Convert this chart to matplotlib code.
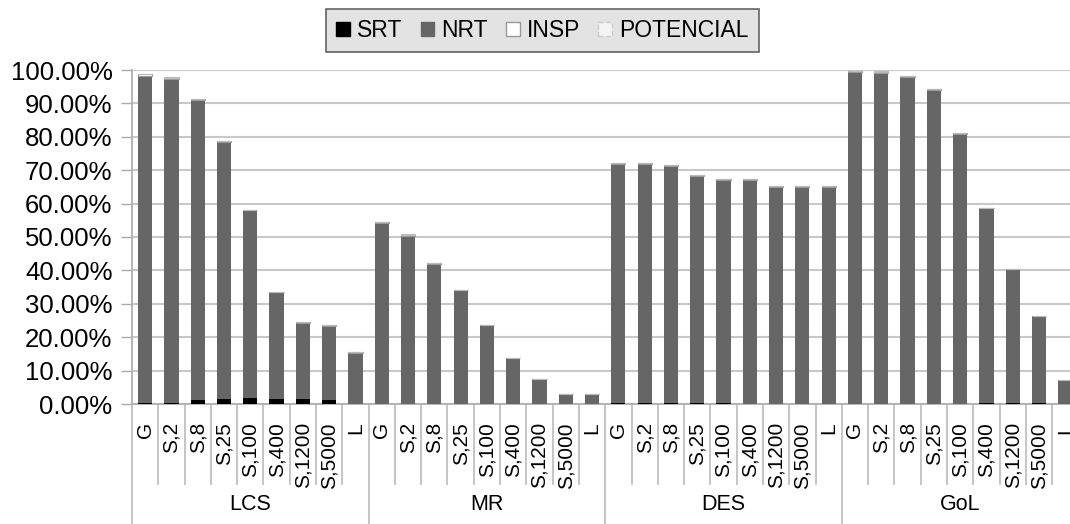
import numpy as np
import matplotlib
matplotlib.use("Agg")
import matplotlib.pyplot as plt
from matplotlib.patches import Patch
from matplotlib.transforms import blended_transform_factory

plt.rcParams['font.family'] = ['Liberation Sans', 'DejaVu Sans']

groups = ["LCS", "MR", "DES", "GoL"]
cats = ["G", "S,2", "S,8", "S,25", "S,100", "S,400", "S,1200", "S,5000", "L"]

# bar tops (%), per group
top_lcs = [98.8, 97.8, 91.4, 78.8, 58.1, 33.6, 24.5, 23.6, 15.5]
top_mr = [54.6, 50.8, 42.1, 34.2, 23.8, 13.8, 7.6, 3.0, 3.0]
top_des = [72.2, 72.2, 71.6, 68.7, 67.4, 67.4, 65.4, 65.4, 65.4]
top_gol = [99.8, 99.6, 98.2, 94.4, 81.0, 58.8, 40.4, 26.4, 7.2]

srt_lcs = [0.2, 0.4, 1.3, 1.6, 1.9, 1.6, 1.6, 1.3, 0.0]
srt_mr = [0.0, 0.0, 0.0, 0.0, 0.0, 0.0, 0.0, 0.0, 0.0]
srt_des = [0.2, 0.3, 0.2, 0.2, 0.2, 0.1, 0.1, 0.0, 0.0]
srt_gol = [0.0, 0.0, 0.0, 0.0, 0.1, 0.2, 0.2, 0.2, 0.0]

insp_lcs = [0.4, 0.5, 0.4, 0.2, 0.1, 0.1, 0.1, 0.1, 0.1]
insp_mr = [0.4, 0.3, 0.2, 0.1, 0.0, 0.0, 0.0, 0.0, 0.0]
insp_des = [0.3, 0.3, 0.3, 0.3, 0.3, 0.3, 0.3, 0.3, 0.3]
insp_gol = [0.3, 0.3, 0.3, 0.3, 0.1, 0.1, 0.0, 0.0, 0.0]

pot_lcs = [0.1, 0.1, 0.1, 0.1, 0.0, 0.0, 0.0, 0.0, 0.0]
pot_mr = [0.1, 0.1, 0.0, 0.0, 0.0, 0.0, 0.0, 0.0, 0.0]
pot_des = [0.1, 0.1, 0.1, 0.1, 0.1, 0.1, 0.1, 0.1, 0.1]
pot_gol = [0.1, 0.1, 0.1, 0.1, 0.0, 0.0, 0.0, 0.0, 0.0]

top = np.array(top_lcs + top_mr + top_des + top_gol)
srt = np.array(srt_lcs + srt_mr + srt_des + srt_gol)
insp = np.array(insp_lcs + insp_mr + insp_des + insp_gol)
pot = np.array(pot_lcs + pot_mr + pot_des + pot_gol)
nrt = top - srt - insp - pot

n = len(top)
x = np.arange(n)
labels = cats * len(groups)

fig = plt.figure(figsize=(10.7, 5.24), dpi=100)
ax = fig.add_axes([132 / 1070, 120 / 524, 36 * 26.29 / 1070, 334 / 524])

w = 0.54
ax.bar(x, srt, w, color='black', zorder=3)
ax.bar(x, nrt, w, bottom=srt, color='#666666', zorder=3)
ax.bar(x, insp, w, bottom=srt + nrt, color='white', edgecolor='#999999', linewidth=0.8, zorder=3)
ax.bar(x, pot, w, bottom=srt + nrt + insp, color='#eeeeee', edgecolor='#bbbbbb', linewidth=0.8, zorder=3)

ax.set_xlim(-0.5, n - 0.5)
ax.set_ylim(0, 100)
yt = np.arange(0, 101, 10)
ax.set_yticks(yt)
ax.set_yticklabels(["%.2f%%" % v for v in yt], fontsize=18.5)
ax.tick_params(axis='y', length=8, width=1, color='#aaaaaa', pad=6)
ax.yaxis.grid(True, color='#c8c8c8', linewidth=1.5, zorder=0)
ax.set_axisbelow(True)

ax.set_xticks(x)
ax.set_xticklabels(labels, rotation=90, fontsize=15)
ax.tick_params(axis='x', length=0, pad=13)

for s in ['top', 'right']:
    ax.spines[s].set_visible(False)
ax.spines['left'].set_color('#b0b0b0')
ax.spines['left'].set_linewidth(1.3)
ax.spines['bottom'].set_color('#b0b0b0')
ax.spines['bottom'].set_linewidth(1.3)

# separators under the axis
tr = blended_transform_factory(ax.transData, ax.transAxes)
for k in range(n + 1):
    xb = k - 0.5
    if k % len(cats) == 0:
        ax.plot([xb, xb], [0, -0.36], transform=tr, color='#c0c0c0', lw=1.3, clip_on=False)
    else:
        ax.plot([xb, xb], [0, -0.24], transform=tr, color='#c0c0c0', lw=1.3, clip_on=False)

for i, g in enumerate(groups):
    xc = i * len(cats) + (len(cats) - 1) / 2
    ax.text(xc, -0.30, g, transform=tr, ha='center', va='center', fontsize=15.5)

handles = [Patch(facecolor='black', edgecolor='black', label='SRT'),
           Patch(facecolor='#666666', edgecolor='#666666', label='NRT'),
           Patch(facecolor='white', edgecolor='#999999', label='INSP'),
           Patch(facecolor='#f4f4f4', edgecolor='#cccccc', linestyle='--', label='POTENCIAL')]
leg = fig.legend(handles=handles, loc='center', bbox_to_anchor=(0.507, 0.942), ncol=4,
                 fontsize=16.5, frameon=True, fancybox=False, facecolor='#dcdcdc',
                 edgecolor='#404040', handlelength=0.6, handleheight=0.6,
                 handletextpad=0.3, columnspacing=0.8, borderpad=0.45, borderaxespad=0)
leg.get_frame().set_linewidth(1.2)

plt.savefig('out.png', dpi=100)
plt.close()
